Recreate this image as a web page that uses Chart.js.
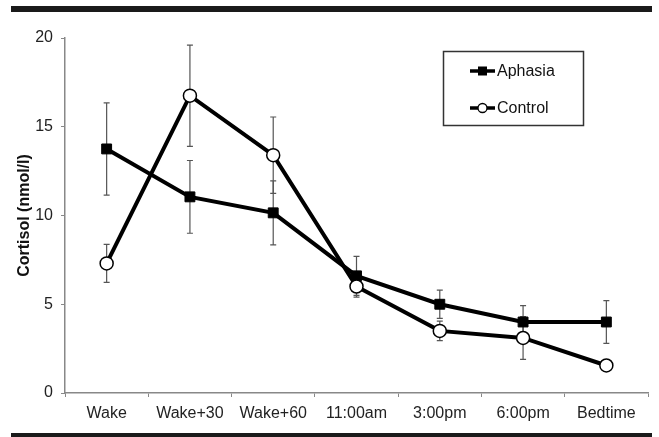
<!DOCTYPE html>
<html>
<head>
<meta charset="utf-8">
<script src="https://cdn.jsdelivr.net/npm/chart.js@4.4.0/dist/chart.umd.min.js"></script>
<style>
  html, body { margin: 0; padding: 0; background: #fff; }
  #wrap { width: 659px; height: 437px; position: relative; }
</style>
</head>
<body>
<div id="wrap"><canvas id="myChart" width="659" height="437"></canvas></div>
<script>
// data
var labels = ['Wake', 'Wake+30', 'Wake+60', '11:00am', '3:00pm', '6:00pm', 'Bedtime'];
var aphasia = [13.75, 11.05, 10.15, 6.6, 5.0, 4.0, 4.0];
var aphasiaErr = [2.6, 2.05, 1.8, 1.1, 0.8, 0.92, 1.2];
var control = [7.3, 16.75, 13.4, 6.0, 3.5, 3.1, 1.55];
var controlErr = [1.07, 2.85, 2.15, 0.6, 0.55, 1.2, 0];
var yTicks = [0, 5, 10, 15, 20];

// error bars drawn under the markers
var errorBars = {
    id: 'errorBars',
    beforeDatasetsDraw: function (chart) {
        var ctx = chart.ctx;
        var x = chart.scales.x, y = chart.scales.y;
        var sets = [[aphasia, aphasiaErr], [control, controlErr]];
        ctx.save();
        ctx.strokeStyle = '#555';
        ctx.lineWidth = 1.2;
        sets.forEach(function (s) {
            s[0].forEach(function (v, i) {
                if (!s[1][i]) return;
                var px = x.getPixelForValue(i);
                var top = y.getPixelForValue(v + s[1][i]);
                var bot = y.getPixelForValue(v - s[1][i]);
                ctx.beginPath();
                ctx.moveTo(px, top); ctx.lineTo(px, bot);
                ctx.moveTo(px - 3, top); ctx.lineTo(px + 3, top);
                ctx.moveTo(px - 3, bot); ctx.lineTo(px + 3, bot);
                ctx.stroke();
            });
        });
        ctx.restore();
    }
};

// frame bars and boxed legend
var decor = {
    id: 'decor',
    afterDraw: function (chart) {
        var ctx = chart.ctx;
        ctx.save();
        ctx.fillStyle = '#1a1a1a';
        ctx.fillRect(11, 6, 641, 6);
        ctx.fillRect(11, 433, 641, 5);

        ctx.strokeStyle = '#333';
        ctx.lineWidth = 1.5;
        ctx.strokeRect(443.5, 51.5, 140, 74);

        ctx.font = '16px "Liberation Sans", Arial, sans-serif';
        ctx.textBaseline = 'middle';
        var rows = [['Aphasia', 71, 'rect'], ['Control', 108, 'circle']];
        rows.forEach(function (r) {
            ctx.strokeStyle = '#000';
            ctx.lineWidth = 3.5;
            ctx.beginPath();
            ctx.moveTo(470, r[1]); ctx.lineTo(495, r[1]);
            ctx.stroke();
            if (r[2] == 'rect') {
                ctx.fillStyle = '#000';
                ctx.fillRect(478, r[1] - 4.5, 9, 9);
            } else {
                ctx.lineWidth = 1.3;
                ctx.fillStyle = '#fff';
                ctx.beginPath();
                ctx.arc(482.5, r[1], 4.5, 0, Math.PI * 2);
                ctx.fill(); ctx.stroke();
            }
            ctx.fillStyle = '#111';
            ctx.fillText(r[0], 497, r[1] + 1);
        });
        ctx.restore();
    }
};

document.addEventListener('DOMContentLoaded', function () {
    var ctx = document.getElementById('myChart').getContext('2d');
    var tickFont = { family: '"Liberation Sans", Arial, sans-serif', size: 16 };
    new Chart(ctx, {
        type: 'line',
        data: {
            labels: labels,
            datasets: [{
                label: 'Aphasia',
                data: aphasia,
                borderColor: '#000',
                backgroundColor: '#000',
                borderWidth: 4,
                pointStyle: 'rect',
                pointRadius: 7,
                pointBorderWidth: 1,
                pointBackgroundColor: '#000',
                pointBorderColor: '#000',
                order: 2,
                fill: false
            },
            {
                label: 'Control',
                data: control,
                borderColor: '#000',
                backgroundColor: '#fff',
                borderWidth: 4,
                pointStyle: 'circle',
                pointRadius: 6.5,
                pointBorderWidth: 1.5,
                pointBackgroundColor: '#fff',
                pointBorderColor: '#000',
                order: 1,
                fill: false
            }]
        },
        options: {
            responsive: false,
            animation: false,
            layout: { padding: { top: 38, right: 11, left: 0, bottom: 0 } },
            plugins: {
                legend: { display: false },
                tooltip: { enabled: false }
            },
            scales: {
                x: {
                    offset: true,
                    grid: { display: true, offset: true, drawOnChartArea: false, color: '#888', tickLength: 4 },
                    border: { color: '#888', width: 1.5 },
                    ticks: { color: '#222', font: tickFont, padding: 7, maxRotation: 0, autoSkip: false },
                    afterFit: function (s) { s.height = 44; }
                },
                y: {
                    min: 0,
                    max: 20,
                    afterBuildTicks: function (s) { s.ticks = yTicks.map(function (v) { return { value: v }; }); },
                    grid: { display: true, drawOnChartArea: false, color: '#888', tickLength: 4 },
                    border: { color: '#888', width: 1.5 },
                    ticks: { color: '#222', font: tickFont, padding: 8 },
                    title: {
                        display: true,
                        text: 'Cortisol (nmol/l)',
                        color: '#111',
                        font: { family: '"Liberation Sans", Arial, sans-serif', size: 16, weight: 'bold' },
                        padding: { top: 15, bottom: 6 }
                    },
                    afterFit: function (s) { s.width = 65; }
                }
            }
        },
        plugins: [errorBars, decor]
    });
});
</script>
</body>
</html>
